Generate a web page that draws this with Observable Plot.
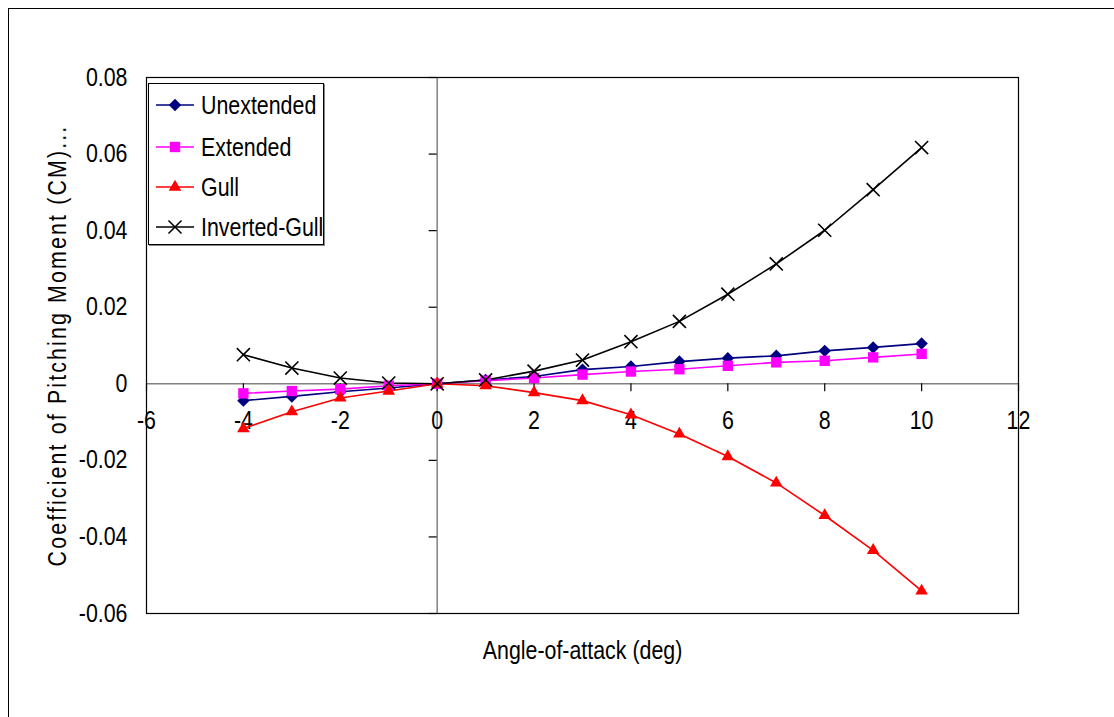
<!DOCTYPE html>
<html>
<head>
<meta charset="utf-8">
<script src="https://cdn.jsdelivr.net/npm/d3@7"></script>
<script src="https://cdn.jsdelivr.net/npm/@observablehq/plot@0.6"></script>
<style>
  body { margin: 0; background: #fff; font-family: "Liberation Sans", Arial, sans-serif; }
  #wrap { position: relative; width: 1114px; height: 717px; overflow: hidden; }
  #outer { position: absolute; left: 8px; top: 8px; width: 1200px; height: 800px; border-left: 1px solid #000; border-top: 1px solid #000; }
  #legend { position: absolute; left: 148px; top: 83px; width: 174px; height: 160px; border: 1px solid #000; background: #fff; box-shadow: 1px 1px 0 #888; }
  #legend .row { position: absolute; left: 0; height: 28px; display: flex; align-items: center; font-size: 25px; color: #000; white-space: nowrap; }
  #legend .row span { display: inline-block; transform: scaleX(0.855); transform-origin: left center; }
  #legend svg { display: block; margin-left: 7px; margin-right: 7px; }
</style>
</head>
<body>
<div id="wrap"><div id="outer"></div><div id="chart"></div><div id="legend"></div></div>
<script>
const angles = [-4, -3, -2, -1, 0, 1, 2, 3, 4, 5, 6, 7, 8, 9, 10];
const unextended = [-0.0044, -0.0033, -0.0021, -0.0011, 0, 0.0010, 0.0019, 0.0037, 0.0045, 0.0058, 0.0067, 0.0073, 0.0086, 0.0095, 0.0105];
const extended = [-0.0025, -0.0019, -0.0014, -0.0005, 0, 0.0008, 0.0015, 0.0024, 0.0032, 0.0038, 0.0047, 0.0056, 0.0060, 0.0069, 0.0078];
const gull = [-0.0117, -0.0073, -0.0037, -0.0019, 0, -0.0005, -0.0023, -0.0044, -0.0081, -0.0131, -0.0190, -0.0259, -0.0344, -0.0435, -0.0541];
const invertedGull = [0.0076, 0.0041, 0.0015, 0.0002, 0, 0.0010, 0.0033, 0.0062, 0.0110, 0.0163, 0.0234, 0.0313, 0.0401, 0.0507, 0.0617];

const seriesNames = ["Unextended", "Extended", "Gull", "Inverted-Gull"];
const seriesValues = [unextended, extended, gull, invertedGull];
const seriesColors = ["#000080", "#FF00FF", "#FF0000", "#000000"];
const seriesSymbols = ["diamond2", "square2", "triangle2", "times"];

const xTicks = [-6, -4, -2, 0, 2, 4, 6, 8, 10, 12];
const yTicks = [0.08, 0.06, 0.04, 0.02, 0, -0.02, -0.04, -0.06];

const xLabel = "Angle-of-attack (deg)";
const yLabel = "Coefficient of Pitching Moment (CM)...";

const FONT = "'Liberation Sans', Arial, sans-serif";
const FS = 25;
const SX = 0.855;

const rows = seriesNames.flatMap((name, s) => angles.map((a, i) => ({series: name, angle: a, cm: seriesValues[s][i]})));

const symbolR = {"diamond2": 5.6, "square2": 6.6, "triangle2": 6, "times": 6};

const dotMarks = seriesNames.map((name, s) => {
  const sym = seriesSymbols[s];
  const isStroke = sym === "times";
  return Plot.dot(rows.filter(d => d.series === name), {
    x: "angle", y: "cm", symbol: () => sym, r: symbolR[sym],
    fill: isStroke ? "none" : seriesColors[s],
    stroke: isStroke ? seriesColors[s] : "none",
    strokeWidth: 1.6
  });
});

const chart = Plot.plot({
  width: 1114, height: 717,
  marginLeft: 146, marginRight: 96, marginTop: 77, marginBottom: 104,
  style: {fontFamily: FONT, fontSize: FS + "px", color: "#000", background: "transparent", overflow: "visible"},
  x: {domain: [-6, 12]},
  y: {domain: [-0.06, 0.08]},
  symbol: {domain: seriesSymbols, range: seriesSymbols},
  color: {domain: seriesNames, range: seriesColors},
  marks: [
    Plot.ruleY([0], {stroke: "#808080", strokeWidth: 1.5}),
    Plot.ruleX([0], {stroke: "#808080", strokeWidth: 1.5}),
    Plot.ruleX(xTicks, {x: d => d, y1: 0, y2: 0, insetTop: 0, insetBottom: -8, stroke: "#000", strokeWidth: 1.2}),
    Plot.ruleY(yTicks, {y: d => d, x1: 0, x2: 0, insetLeft: -8, insetRight: 0, stroke: "#000", strokeWidth: 1.2}),
    Plot.frame({stroke: "#000", strokeWidth: 1.2}),
    Plot.axisY({ticks: yTicks, tickSize: 0, tickPadding: 19, tickFormat: d => d === 0 ? "0" : d.toFixed(2), fontSize: FS, label: null}),
    Plot.axisX({ticks: [], label: null}),
    Plot.text(xTicks, {x: d => d, y: 0, dy: 37, text: d => String(d), fontSize: FS, fill: "#000"}),
    Plot.line(rows, {x: "angle", y: "cm", z: "series", stroke: "series", strokeWidth: 1.6}),
    ...dotMarks,
    Plot.text([xLabel], {frameAnchor: "bottom", dy: 45, text: d => d, fontSize: FS, fill: "#000", textAnchor: "middle"}),
    Plot.text([yLabel], {frameAnchor: "left", dx: -89, rotate: -90, text: d => d, fontSize: FS, fill: "#000", textAnchor: "middle"})
  ]
});
// Compress glyphs horizontally (along the text direction) around each text's anchor point
d3.select(chart).selectAll("text").each(function() {
  const el = this;
  const x = +el.getAttribute("x") || 0;
  const t = el.getAttribute("transform") || "";
  el.setAttribute("transform", `${t} translate(${x},0) scale(${SX},1) translate(${-x},0)`.trim());
  if (el.textContent === yLabel) el.setAttribute("letter-spacing", "2.5px");
});
document.getElementById("chart").appendChild(chart);

// Legend
const legend = d3.select("#legend");
const rowTops = [7, 49, 89, 129];
seriesNames.forEach((name, s) => {
  const row = legend.append("div").attr("class", "row").style("top", rowTops[s] + "px");
  const svg = row.append("svg").attr("width", 38).attr("height", 24);
  svg.append("line").attr("x1", 0).attr("x2", 38).attr("y1", 12).attr("y2", 12)
    .attr("stroke", seriesColors[s]).attr("stroke-width", 1.5);
  const sym = seriesSymbols[s];
  const typeMap = {"diamond2": d3.symbolDiamond2, "square2": d3.symbolSquare2, "triangle2": d3.symbolTriangle2, "times": d3.symbolTimes};
  const r = symbolR[sym];
  const path = svg.append("path").attr("transform", "translate(19,12)")
    .attr("d", d3.symbol(typeMap[sym], r * r * Math.PI)());
  if (sym === "times") path.attr("fill", "none").attr("stroke", seriesColors[s]).attr("stroke-width", 1.5);
  else path.attr("fill", seriesColors[s]);
  row.append("span").text(name);
});
</script>
</body>
</html>
